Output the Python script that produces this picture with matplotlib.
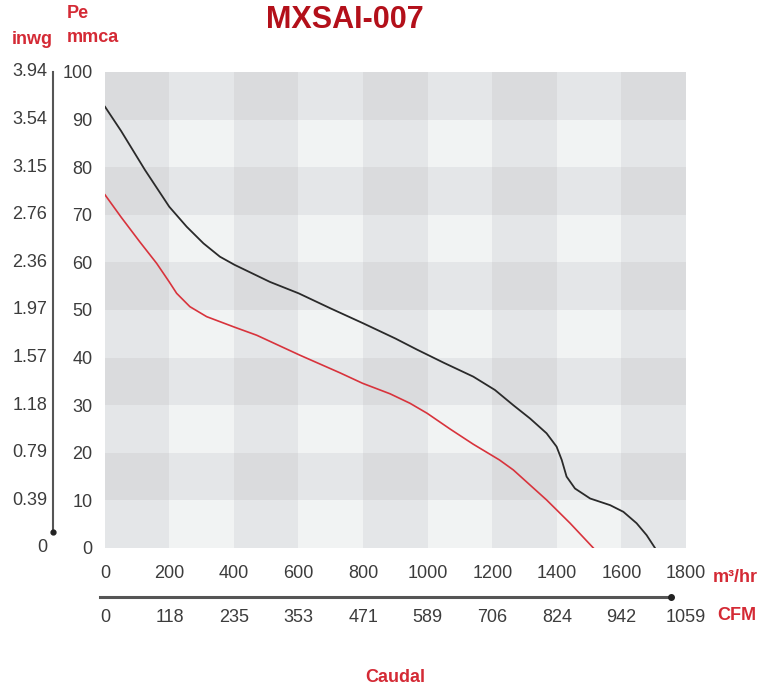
import numpy as np
import matplotlib.pyplot as plt
from matplotlib.transforms import blended_transform_factory

# curve data (m3/hr vs mmca)
flow_black = [0, 50, 124, 199, 253, 305, 356, 401, 511, 600, 700, 800, 900,
              966, 1050, 1141, 1208, 1265, 1317, 1368, 1399, 1415, 1430, 1456,
              1503, 1565, 1606, 1647, 1678, 1704]
pe_black = [92.7, 87.6, 79.4, 71.7, 67.5, 64.0, 61.2, 59.5, 55.9, 53.5, 50.3,
            47.2, 44.0, 41.7, 38.9, 36.0, 33.2, 30.0, 27.2, 24.1, 21.3, 18.5, 15.0,
            12.5, 10.4, 9.0, 7.6, 5.2, 2.7, 0.0]

flow_red = [0, 50, 108, 160, 199, 222, 263, 315, 401, 470, 604, 728, 798, 883, 945,
            998, 1069, 1141, 1222, 1265, 1368, 1441, 1513]
pe_red = [74.2, 69.5, 64.3, 59.8, 55.9, 53.5, 50.7, 48.6, 46.4, 44.7, 40.5, 36.8,
          34.6, 32.4, 30.4, 28.3, 25.0, 21.8, 18.5, 16.4, 10.1, 5.2, 0.0]

m3h_ticks = [0, 200, 400, 600, 800, 1000, 1200, 1400, 1600, 1800]
cfm_labels = ['0', '118', '235', '353', '471', '589', '706', '824', '942', '1059']
mmca_ticks = [0, 10, 20, 30, 40, 50, 60, 70, 80, 90, 100]
inwg_labels = ['0', '0.39', '0.79', '1.18', '1.57', '1.97', '2.36', '2.76', '3.15',
               '3.54', '3.94']

narrow = ['Liberation Sans Narrow', 'Liberation Sans', 'DejaVu Sans']
red = '#d42a35'
grey_txt = '#3c3c3c'
fs = 13

W, H = 757, 692
fig = plt.figure(figsize=(W / 100, H / 100), dpi=100)
ax = fig.add_axes([105 / W, 1 - 548 / H, 581 / W, 476 / H])

# checkerboard background: dark columns/rows alternate
ncol, nrow = 9, 10
col_dark = (np.arange(ncol) % 2 == 0).astype(int)
row_dark = (np.arange(nrow)[::-1] % 2 == 0).astype(int)  # top row dark
shade = row_dark[:, None] + col_dark[None, :]
palette = np.array([[0.949, 0.953, 0.953], [0.898, 0.902, 0.910], [0.855, 0.859, 0.867]])
img = palette[shade]
ax.imshow(img, extent=[0, 1800, 0, 100], origin='lower', aspect='auto',
          interpolation='nearest', zorder=0)

ax.plot(flow_black, pe_black, color='#2a2a2a', lw=1.3, zorder=3,
        solid_joinstyle='round')
ax.plot(flow_red, pe_red, color='#d8333c', lw=1.2, zorder=3,
        solid_joinstyle='round')

ax.set_xlim(0, 1800)
ax.set_ylim(0, 100)
for s in ax.spines.values():
    s.set_visible(False)

ax.set_yticks(mmca_ticks)
ax.set_yticklabels([str(v) for v in mmca_ticks])
ax.tick_params(axis='y', length=0, pad=9, labelsize=fs, labelcolor=grey_txt)
for lab in ax.get_yticklabels():
    lab.set_family(narrow)
ax.set_xticks(m3h_ticks)
ax.set_xticklabels([str(v) for v in m3h_ticks])
ax.tick_params(axis='x', length=0, pad=12, labelsize=fs, labelcolor=grey_txt)
for lab in ax.get_xticklabels():
    lab.set_family(narrow)

# inwg scale on the far left
tr_y = blended_transform_factory(ax.transAxes, ax.transData)
x_line = (53 - 105) / 581
ax.plot([x_line, x_line], [100, 3.3], transform=tr_y, color='#555555', lw=1.5,
        clip_on=False)
ax.plot([x_line], [3.3], transform=tr_y, marker='o', ms=3.5, color='#222222',
        clip_on=False)
for v, lab in zip(mmca_ticks, inwg_labels):
    ax.text((47 - 105) / 581, v, lab, transform=tr_y, ha='right', va='center',
            fontsize=fs, color=grey_txt, family=narrow)

# CFM scale under the m3/hr scale
tr_x = blended_transform_factory(ax.transData, ax.transAxes)
y_arrow = (548 - 597) / 476
ax.plot([-15, 1755], [y_arrow, y_arrow], transform=tr_x, color='#555555', lw=2.2,
        clip_on=False)
ax.plot([1755], [y_arrow], transform=tr_x, marker='o', ms=4, color='#222222',
        clip_on=False)
for v, lab in zip(m3h_ticks, cfm_labels):
    ax.text(v, (548 - 618) / 476, lab, transform=tr_x, ha='center', va='center',
            fontsize=fs, color=grey_txt, family=narrow)

# labels
fig.text(713 / W, 1 - 577 / H, 'm³/hr', color=red, fontsize=13, fontweight='bold',
         family=narrow, ha='left', va='center')
fig.text(717 / W, 1 - 615 / H, 'CFM', color=red, fontsize=13, fontweight='bold',
         family=narrow, ha='left', va='center')
fig.text(395 / W, 1 - 677 / H, 'Caudal', color=red, fontsize=13, fontweight='bold',
         family=narrow, ha='center', va='center')
fig.text(12 / W, 1 - 40 / H, 'inwg', color=red, fontsize=13, fontweight='bold',
         family=narrow, ha='left', va='center')
fig.text(67 / W, 1 - 14 / H, 'Pe', color=red, fontsize=13, fontweight='bold',
         family=narrow, ha='left', va='center')
fig.text(67 / W, 1 - 38 / H, 'mmca', color=red, fontsize=13, fontweight='bold',
         family=narrow, ha='left', va='center')
fig.text(345 / W, 1 - 20 / H, 'MXSAI-007', color='#b3101a', fontsize=22,
         fontweight='bold', family=['Liberation Sans', 'DejaVu Sans'],
         ha='center', va='center')

fig.savefig('out.png', dpi=100)
